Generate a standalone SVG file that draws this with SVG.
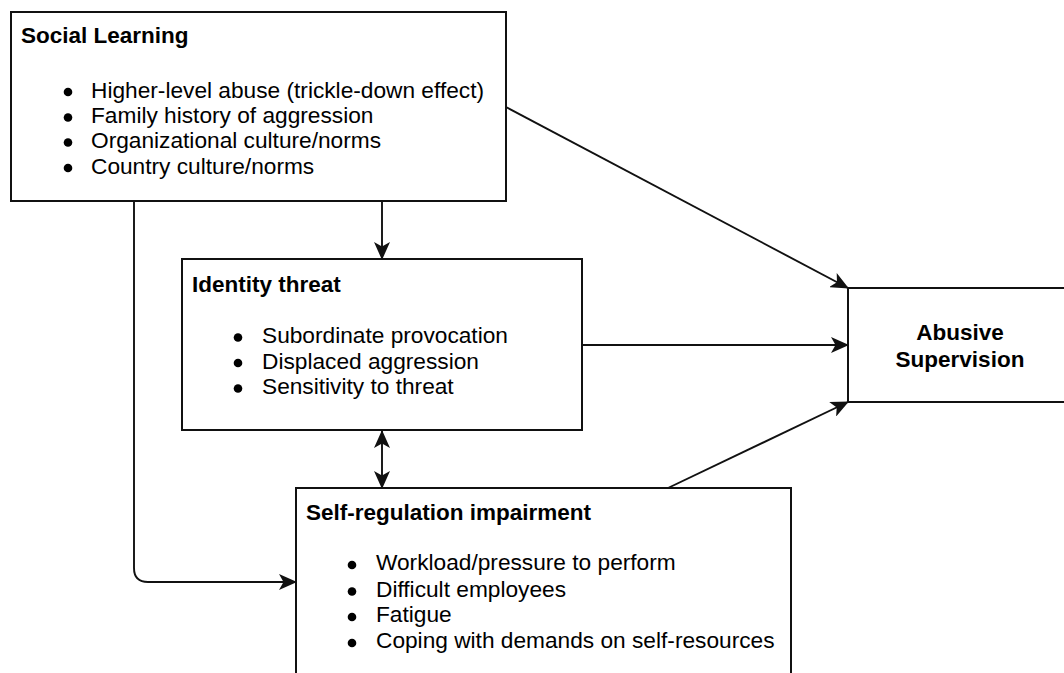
<svg xmlns="http://www.w3.org/2000/svg" width="1064" height="673" viewBox="0 0 1064 673">
  <style>
    .box { fill: #ffffff; stroke: #111111; stroke-width: 2; }
    .title { font-family: "Liberation Sans", Arial, Helvetica, sans-serif; font-size: 22.5px; font-weight: bold; fill: #000000; }
    .item { font-family: "Liberation Sans", Arial, Helvetica, sans-serif; font-size: 22.7px; fill: #000000; }
    .center { text-anchor: middle; }
    .dot { fill: #000000; }
    .edge { fill: none; stroke: #111111; stroke-width: 1.9; }
  </style>
  <defs>
    <marker id="arrow" markerUnits="userSpaceOnUse" viewBox="0 0 18 16" markerWidth="18" markerHeight="16" refX="17" refY="8" orient="auto-start-reverse">
      <path d="M0,0 L18,8 L0,16 L4.5,8 Z" fill="#111111"/>
    </marker>
  </defs>

  <rect width="1064" height="673" fill="#ffffff"/>

  <!-- connectors -->
  <g id="connectors">
    <path class="edge" d="M382,201 L382,259" marker-end="url(#arrow)"/>
    <path class="edge" d="M134,201 L134,568 Q134,582 148,582 L296,582" marker-end="url(#arrow)"/>
    <path class="edge" d="M382,431 L382,488" marker-start="url(#arrow)" marker-end="url(#arrow)"/>
    <path class="edge" d="M506,107 L848,288" marker-end="url(#arrow)"/>
    <path class="edge" d="M582,345 L848,345" marker-end="url(#arrow)"/>
    <path class="edge" d="M668,488 L848,402" marker-end="url(#arrow)"/>
  </g>

  <!-- Social Learning -->
  <g id="social-learning">
    <rect class="box" x="11" y="12" width="495" height="189"/>
    <text class="title" x="21" y="43">Social Learning</text>
    <circle class="dot" cx="68" cy="92" r="4.3"/>
    <circle class="dot" cx="68" cy="117.5" r="4.3"/>
    <circle class="dot" cx="68" cy="142.5" r="4.3"/>
    <circle class="dot" cx="68" cy="168" r="4.3"/>
    <text class="item" x="91" y="97.5">Higher-level abuse (trickle-down effect)</text>
    <text class="item" x="91" y="123">Family history of aggression</text>
    <text class="item" x="91" y="148">Organizational culture/norms</text>
    <text class="item" x="91" y="173.5">Country culture/norms</text>
  </g>

  <!-- Identity threat -->
  <g id="identity-threat">
    <rect class="box" x="182" y="259" width="400" height="171"/>
    <text class="title" x="192" y="292">Identity threat</text>
    <circle class="dot" cx="238" cy="337.5" r="4.3"/>
    <circle class="dot" cx="238" cy="363" r="4.3"/>
    <circle class="dot" cx="238" cy="388.5" r="4.3"/>
    <text class="item" x="262" y="343">Subordinate provocation</text>
    <text class="item" x="262" y="368.5">Displaced aggression</text>
    <text class="item" x="262" y="394">Sensitivity to threat</text>
  </g>

  <!-- Self-regulation impairment -->
  <g id="self-regulation">
    <rect class="box" x="296" y="488" width="495" height="200"/>
    <text class="title" x="306" y="520">Self-regulation impairment</text>
    <circle class="dot" cx="352" cy="565" r="4.3"/>
    <circle class="dot" cx="352" cy="591.5" r="4.3"/>
    <circle class="dot" cx="352" cy="617" r="4.3"/>
    <circle class="dot" cx="352" cy="643" r="4.3"/>
    <text class="item" x="376" y="570">Workload/pressure to perform</text>
    <text class="item" x="376" y="596.5">Difficult employees</text>
    <text class="item" x="376" y="622">Fatigue</text>
    <text class="item" x="376" y="648">Coping with demands on self-resources</text>
  </g>

  <!-- Abusive Supervision -->
  <g id="abusive-supervision">
    <rect class="box" x="848" y="288" width="224" height="114"/>
    <text class="title center" x="960" y="340">Abusive</text>
    <text class="title center" x="960" y="367">Supervision</text>
  </g>
</svg>
